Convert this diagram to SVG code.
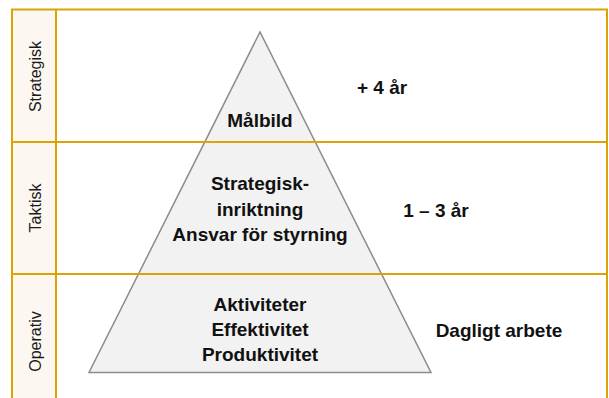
<svg xmlns="http://www.w3.org/2000/svg" width="609" height="398" viewBox="0 0 609 398">
  <style>
    .grid { stroke: #D9A404; stroke-width: 2; fill: none; }
    .labelcol { fill: #FDF7F2; }
    .lbl { font-family: "Liberation Sans", Arial, sans-serif; font-size: 16px; fill: #1a1a1a; text-anchor: middle; }
    .bold { font-family: "Liberation Sans", Arial, sans-serif; font-size: 19px; font-weight: bold; fill: #111; text-anchor: middle; }
    .tri { fill: #F2F2F2; stroke: #8C8C8C; stroke-width: 1.5; }
  </style>
  <rect width="609" height="398" fill="#FFFFFF"/>
  <g id="label-column">
    <rect class="labelcol" x="12" y="9.5" width="44" height="400"/>
  </g>
  <g id="pyramid">
    <polygon class="tri" points="260,32 89,372.5 431,372.5"/>
  </g>
  <g id="grid">
    <rect class="grid" x="12" y="9.5" width="595" height="400"/>
    <line class="grid" x1="12" y1="142" x2="607" y2="142"/>
    <line class="grid" x1="12" y1="274" x2="607" y2="274"/>
    <line class="grid" x1="56" y1="9.5" x2="56" y2="398"/>
  </g>
  <g id="row-strategisk">
    <text class="lbl" transform="translate(40.5,76.5) rotate(-90)">Strategisk</text>
    <text class="bold" x="260" y="127">Målbild</text>
    <text class="bold" x="357" y="94" style="text-anchor:start">+ 4 år</text>
  </g>
  <g id="row-taktisk">
    <text class="lbl" transform="translate(40.5,208) rotate(-90)">Taktisk</text>
    <text class="bold" x="260" y="190">Strategisk-</text>
    <text class="bold" x="260" y="215.5">inriktning</text>
    <text class="bold" x="260" y="241">Ansvar för styrning</text>
    <text class="bold" x="436" y="216.5">1 – 3 år</text>
  </g>
  <g id="row-operativ">
    <text class="lbl" transform="translate(40.5,341.5) rotate(-90)">Operativ</text>
    <text class="bold" x="260" y="311">Aktiviteter</text>
    <text class="bold" x="260" y="336">Effektivitet</text>
    <text class="bold" x="260" y="361">Produktivitet</text>
    <text class="bold" x="499" y="337">Dagligt arbete</text>
  </g>
  <g id="connectors"/>
</svg>
